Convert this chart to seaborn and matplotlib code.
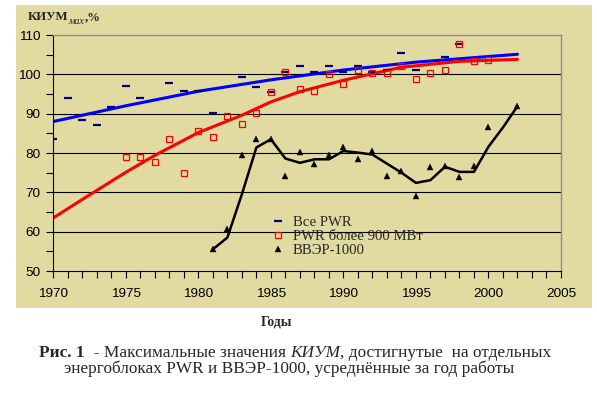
import matplotlib
matplotlib.use("Agg")
import matplotlib.pyplot as plt
from matplotlib.patches import Rectangle
from matplotlib.ticker import MultipleLocator
import seaborn as sns

# ---------------- data ----------------
pwr_years = [1970, 1971, 1972, 1973, 1974, 1975, 1976, 1978, 1979, 1980, 1981,
             1983, 1984, 1985, 1986, 1987, 1988, 1989, 1990, 1991, 1992, 1993,
             1994, 1995, 1997, 1998]
pwr_vals = [83.5, 94.0, 88.3, 87.0, 91.6, 97.0, 94.0, 97.8, 95.8, 95.8, 90.2,
            99.2, 96.8, 95.5, 100.5, 102.0, 100.5, 102.0, 100.5, 102.0, 100.6, 101.1,
            105.5, 101.0, 104.5, 107.6]

pwr900_years = [1975, 1976, 1977, 1978, 1979, 1980, 1981, 1982, 1983, 1984, 1985,
                1986, 1987, 1988, 1989, 1990, 1991, 1992, 1993, 1994, 1995, 1996,
                1997, 1998, 1999, 2000]
pwr900_vals = [79.0, 78.9, 77.8, 83.6, 75.0, 85.6, 84.1, 89.4, 87.4, 90.2, 95.4,
               100.5, 96.3, 95.8, 100.1, 97.6, 101.1, 100.4, 100.4, 102.0, 98.7, 100.4,
               101.2, 107.6, 103.5, 103.7]

vver_years = [1981, 1982, 1983, 1984, 1985, 1986, 1987, 1988, 1989, 1990, 1991,
              1992, 1993, 1994, 1995, 1996, 1997, 1998, 1999, 2000, 2002]
vver_vals = [55.5, 60.6, 79.5, 83.5, 83.5, 74.1, 80.3, 77.1, 79.5, 81.4, 78.6,
             80.5, 74.1, 75.5, 69.0, 76.5, 76.7, 74.0, 76.7, 86.7, 91.9]

# trend / smoothed lines as drawn in the reference
pwr_trend_years = [1970, 1975, 1980, 1985, 1990, 1995, 2002]
pwr_trend_vals = [88.0, 92.0, 95.7, 98.6, 101.1, 103.1, 105.1]

pwr900_trend_years = [1970, 1972, 1975, 1977, 1980, 1983, 1985, 1987, 1990, 1994, 1998, 2002]
pwr900_trend_vals = [63.5, 68.2, 75.1, 79.4, 85.2, 89.6, 93.0, 95.6, 98.5, 101.8, 103.3, 103.8]

vver_line_years = [1981, 1982, 1983, 1984, 1985, 1986, 1987, 1988, 1989, 1990, 1991,
                   1992, 1993, 1994, 1995, 1996, 1997, 1998, 1999, 2000, 2001, 2002]
vver_line_vals = [55.5, 58.5, 69.5, 81.4, 83.5, 78.6, 77.5, 78.4, 78.4, 80.5, 80.1,
                  79.6, 77.3, 75.0, 72.4, 73.1, 76.5, 75.2, 75.2, 81.6, 86.5, 91.9]

legend_labels = ["Все PWR", "PWR более 900 МВт", "ВВЭР-1000"]
x_ticks = [1970, 1975, 1980, 1985, 1990, 1995, 2000, 2005]
y_ticks = [50, 60, 70, 80, 90, 100, 110]

# ---------------- figure ----------------
sns.set_style("ticks")
plt.rcParams["font.family"] = ["Liberation Sans", "DejaVu Sans"]

W, H = 597, 397
fig = plt.figure(figsize=(W / 100, H / 100), dpi=100)
fig.patch.set_facecolor("white")
khaki = "#E1DAA1"
fig.patches.append(Rectangle((16 / W, 1 - 308 / H), (592 - 16) / W, (308 - 5) / H,
                             transform=fig.transFigure, facecolor=khaki,
                             edgecolor="none", zorder=-5))

ax = fig.add_axes([53.3 / W, 1 - 271 / H, (561 - 53.3) / W, (271 - 35) / H])
ax.set_zorder(2)
ax.set_facecolor(khaki)

for gy in y_ticks[1:-1]:
    ax.axhline(gy, color="black", lw=0.8, zorder=1)

sns.lineplot(x=pwr_trend_years, y=pwr_trend_vals, ax=ax, color="#0000FF", lw=2.2, zorder=2)
sns.lineplot(x=pwr900_trend_years, y=pwr900_trend_vals, ax=ax, color="#FF0000", lw=2.2, zorder=2)
sns.lineplot(x=vver_line_years, y=vver_line_vals, ax=ax, color="black", lw=1.8, zorder=3)

sns.lineplot(x=pwr_years, y=pwr_vals, ax=ax, linestyle="", marker="_", markersize=5.8,
             markeredgewidth=1.6, markeredgecolor="#000080", color="#000080",
             label=legend_labels[0], zorder=4)
sns.lineplot(x=pwr900_years, y=pwr900_vals, ax=ax, linestyle="", marker="s", markersize=4.3,
             markerfacecolor="none", markeredgecolor="#FF0000", markeredgewidth=0.9,
             color="#FF0000", label=legend_labels[1], zorder=5)
sns.lineplot(x=vver_years, y=vver_vals, ax=ax, linestyle="", marker="^", markersize=5.0,
             markerfacecolor="black", markeredgecolor="black", markeredgewidth=0.3,
             color="black", label=legend_labels[2], zorder=5)

ax.set_xlim(1970, 2005)
ax.set_ylim(50, 110)
ax.set_xticks(x_ticks)
ax.set_yticks(y_ticks)
ax.xaxis.set_minor_locator(MultipleLocator(1))
ax.yaxis.set_minor_locator(MultipleLocator(5))
ax.tick_params(axis="both", which="both", direction="out", length=5, width=0.8,
               color="black", labelsize=9.7, labelcolor="black")
ax.tick_params(axis="x", which="major", pad=7)
ax.tick_params(axis="y", which="major", pad=4)
ax.tick_params(top=False, right=False, which="both")
ax.set_xlabel("")
ax.set_ylabel("")
for side in ["left", "bottom"]:
    ax.spines[side].set_color("black")
    ax.spines[side].set_linewidth(0.8)
for side in ["top", "right"]:
    ax.spines[side].set_visible(True)
    ax.spines[side].set_color("#8C8C8C")
    ax.spines[side].set_linewidth(1.0)

leg = ax.legend(loc="upper left", bbox_to_anchor=((271 - 53.3) / 507.7, (271 - 216) / 236),
                frameon=False, borderpad=0, borderaxespad=0, handlelength=1.0,
                handletextpad=0.5, labelspacing=0.03,
                prop={"family": "Liberation Serif", "size": 10.6})

# ---------------- texts ----------------
renderer = fig.canvas.get_renderer()


def chain(parts, x0, y0):
    x = x0
    for s, kw in parts:
        dy = kw.pop("dy", 0)
        t = fig.text(x / W, 1 - (y0 + dy) / H, s, ha="left", va="baseline", **kw)
        bb = t.get_window_extent(renderer)
        x = bb.x1


serif = "Liberation Serif"
chain([("КИУМ", dict(family=serif, weight="bold", size=9.2)),
       ("мах", dict(family=serif, style="italic", size=7.2, dy=4)),
       (",%", dict(family=serif, weight="bold", size=9.2))], 28, 20)

fig.text(277 / W, 1 - 326 / H, "Годы", ha="center", va="baseline",
         family=serif, weight="bold", size=9.8)

cap = 12.4
chain([("Рис. 1", dict(family=serif, weight="bold", size=cap)),
       ("  - Максимальные значения ", dict(family=serif, size=cap)),
       ("КИУМ", dict(family=serif, style="italic", size=cap)),
       (", достигнутые  на отдельных", dict(family=serif, size=cap))], 39, 357)
fig.text(289 / W, 1 - 373 / H, "энергоблоках PWR и ВВЭР-1000, усреднённые за год работы",
         ha="center", va="baseline", family=serif, size=cap)

fig.savefig("out.png", dpi=100, facecolor="white")
